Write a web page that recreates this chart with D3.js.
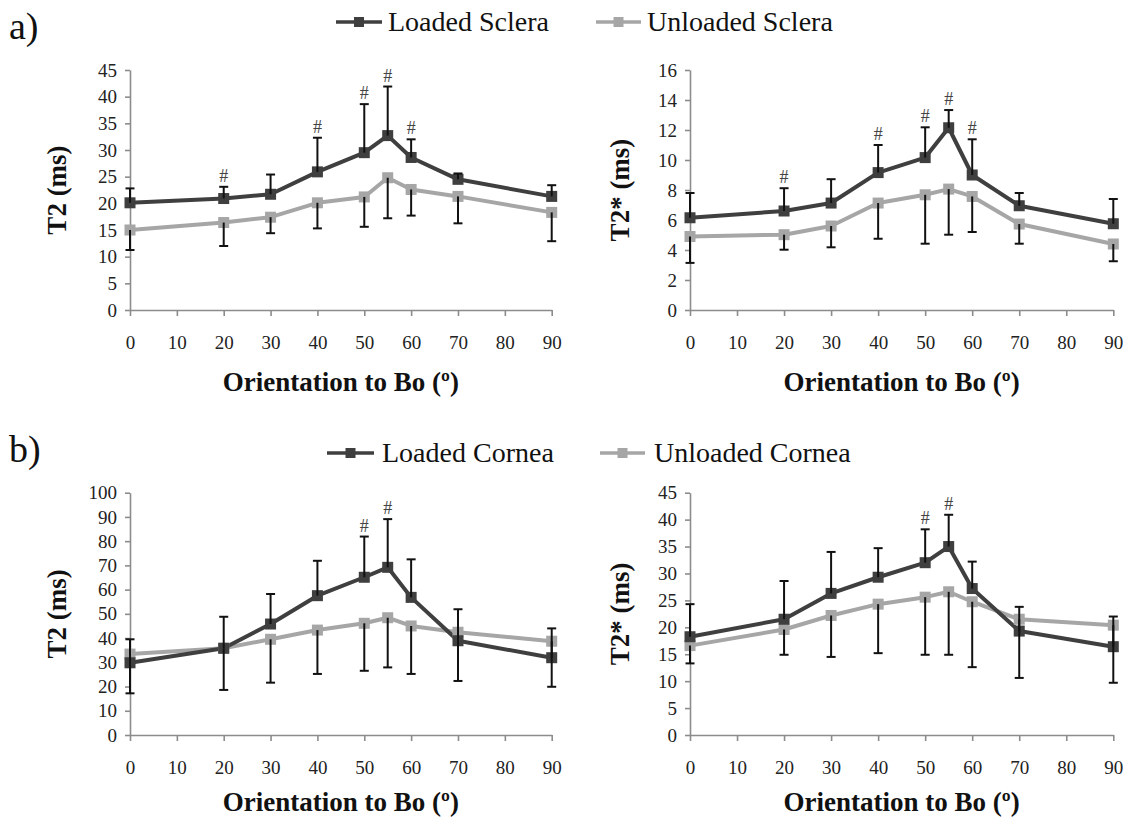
<!DOCTYPE html>
<html>
<head>
<meta charset="utf-8">
<script src="https://cdn.jsdelivr.net/npm/d3@7"></script>
<style>
  html, body { margin: 0; padding: 0; background: #fff; }
  svg { display: block; }
  svg text { font-family: "Liberation Serif", "DejaVu Serif", serif; }
</style>
</head>
<body>
<svg id="chart" width="1125" height="819"></svg>
<script>
// ---------------- DATA ----------------
const angles = [0, 20, 30, 40, 50, 55, 60, 70, 90];
const xTickValues = [0, 10, 20, 30, 40, 50, 60, 70, 80, 90];

// a) Sclera T2 (ms)
const scleraT2Loaded     = [20.1, 20.9, 21.7, 25.9, 29.5, 32.7, 28.6, 24.5, 21.3];
const scleraT2LoadedSD   = [2.7, 2.2, 3.7, 6.4, 9.1, 9.2, 3.4, 1.1, 2.1];
const scleraT2Unloaded   = [15.0, 16.4, 17.4, 20.1, 21.2, 24.8, 22.6, 21.3, 18.3];
const scleraT2UnloadedSD = [3.75, 4.4, 3.0, 4.8, 5.6, 7.6, 4.9, 5.05, 5.4];
const scleraT2Sig        = [20, 40, 50, 55, 60];

// a) Sclera T2* (ms)
const scleraT2sLoaded     = [6.15, 6.6, 7.13, 9.16, 10.16, 12.15, 9.0, 6.95, 5.75];
const scleraT2sLoadedSD   = [1.65, 1.52, 1.59, 1.84, 2.02, 1.18, 2.38, 0.85, 1.65];
const scleraT2sUnloaded   = [4.9, 5.02, 5.6, 7.13, 7.68, 8.06, 7.57, 5.73, 4.4];
const scleraT2sUnloadedSD = [1.76, 1.0, 1.42, 2.38, 3.26, 3.04, 2.37, 1.31, 1.15];
const scleraT2sSig        = [20, 40, 50, 55, 60];

// b) Cornea T2 (ms)
const corneaT2Loaded     = [29.8, 35.8, 45.8, 57.5, 65.1, 69.2, 56.8, 38.9, 31.9];
const corneaT2LoadedSD   = [9.7, 13.0, 12.4, 14.4, 16.8, 19.9, 15.7, 13.0, 12.1];
const corneaT2Unloaded   = [33.4, 35.8, 39.5, 43.3, 46.1, 48.4, 45.0, 42.4, 38.7];
const corneaT2UnloadedSD = [16.2, 17.2, 17.9, 18.1, 19.6, 20.5, 19.8, 20.1, 18.8];
const corneaT2Sig        = [50, 55];

// b) Cornea T2* (ms)
const corneaT2sLoaded     = [18.25, 21.5, 26.3, 29.3, 32.0, 35.0, 27.2, 19.3, 16.4];
const corneaT2sLoadedSD   = [6.05, 7.1, 7.7, 5.4, 6.2, 5.9, 5.0, 4.5, 5.6];
const corneaT2sUnloaded   = [16.6, 19.6, 22.2, 24.3, 25.6, 26.6, 24.75, 21.5, 20.4];
const corneaT2sUnloadedSD = [3.3, 4.7, 7.7, 9.1, 10.7, 11.7, 12.15, 10.9, 10.7];
const corneaT2sSig        = [50, 55];

const scleraLegend = ["Loaded Sclera", "Unloaded Sclera"];
const corneaLegend = ["Loaded Cornea", "Unloaded Cornea"];
const xTitle = "Orientation to Bo (º)";

// ---------------- STYLE / LAYOUT ----------------
const C_LOADED = "#3f3f3f";
const C_UNLOADED = "#a6a6a6";
const C_AXIS = "#8c8c8c";

const svg = d3.select("#chart");

const panels = [
  { left: 130, right: 551.7, top: 70, bottom: 310, ymax: 45, ystep: 5, ytitle: "T2 (ms)", ytx: 57, xtb: 391,
    loaded: scleraT2Loaded, loadedSD: scleraT2LoadedSD, unloaded: scleraT2Unloaded, unloadedSD: scleraT2UnloadedSD, sig: scleraT2Sig },
  { left: 690, right: 1113.3, top: 70, bottom: 310, ymax: 16, ystep: 2, ytitle: "T2* (ms)", ytx: 620, xtb: 391,
    loaded: scleraT2sLoaded, loadedSD: scleraT2sLoadedSD, unloaded: scleraT2sUnloaded, unloadedSD: scleraT2sUnloadedSD, sig: scleraT2sSig },
  { left: 130, right: 551.7, top: 492.7, bottom: 735, ymax: 100, ystep: 10, ytitle: "T2 (ms)", ytx: 57, xtb: 811,
    loaded: corneaT2Loaded, loadedSD: corneaT2LoadedSD, unloaded: corneaT2Unloaded, unloadedSD: corneaT2UnloadedSD, sig: corneaT2Sig },
  { left: 690, right: 1113.3, top: 492.7, bottom: 735, ymax: 45, ystep: 5, ytitle: "T2* (ms)", ytx: 620, xtb: 811,
    loaded: corneaT2sLoaded, loadedSD: corneaT2sLoadedSD, unloaded: corneaT2sUnloaded, unloadedSD: corneaT2sUnloadedSD, sig: corneaT2sSig }
];

function drawPanel(p) {
  const x = d3.scaleLinear().domain([0, 90]).range([p.left, p.right]);
  const y = d3.scaleLinear().domain([0, p.ymax]).range([p.bottom, p.top]);
  const g = svg.append("g");

  // Y axis
  const yAxis = d3.axisLeft(y)
    .tickValues(d3.range(0, p.ymax + p.ystep / 2, p.ystep))
    .tickSize(5).tickPadding(8).tickSizeOuter(0);
  const ya = g.append("g").attr("transform", `translate(${p.left},0)`).call(yAxis);
  ya.attr("font-family", null);
  ya.select(".domain").attr("stroke", C_AXIS).attr("stroke-width", 1.6);
  ya.selectAll(".tick line").attr("stroke", C_AXIS).attr("stroke-width", 1.6);
  ya.selectAll(".tick text").attr("font-size", 19).attr("fill", "#222");

  // X axis
  const xAxis = d3.axisBottom(x).tickValues(xTickValues)
    .tickSize(6).tickPadding(20).tickSizeOuter(0);
  const xa = g.append("g").attr("transform", `translate(0,${p.bottom})`).call(xAxis);
  xa.attr("font-family", null);
  xa.select(".domain").attr("stroke", C_AXIS).attr("stroke-width", 1.6);
  xa.selectAll(".tick line").attr("stroke", C_AXIS).attr("stroke-width", 1.6);
  xa.selectAll(".tick text").attr("font-size", 19).attr("fill", "#222");

  // Axis titles
  g.append("text")
    .attr("x", (p.left + p.right) / 2).attr("y", p.xtb)
    .attr("text-anchor", "middle")
    .attr("font-weight", "bold").attr("font-size", 27)
    .attr("fill", "#111").text(xTitle);
  g.append("text")
    .attr("transform", `translate(${p.ytx},${(p.top + p.bottom) / 2}) rotate(-90)`)
    .attr("text-anchor", "middle").attr("dominant-baseline", "central")
    .attr("font-weight", "bold").attr("font-size", 27)
    .attr("fill", "#111").text(p.ytitle);

  const loadedPts = angles.map((a, i) => ({ a, v: p.loaded[i], sd: p.loadedSD[i] }));
  const unloadedPts = angles.map((a, i) => ({ a, v: p.unloaded[i], sd: p.unloadedSD[i] }));

  const line = d3.line().x(d => x(d.a)).y(d => y(d.v));

  // Lines
  g.append("path").datum(unloadedPts).attr("d", line)
    .attr("fill", "none").attr("stroke", C_UNLOADED).attr("stroke-width", 4).attr("stroke-linejoin", "round");
  g.append("path").datum(loadedPts).attr("d", line)
    .attr("fill", "none").attr("stroke", C_LOADED).attr("stroke-width", 4).attr("stroke-linejoin", "round");

  // Markers
  const ms = 11;
  g.selectAll(".mu").data(unloadedPts).enter().append("rect")
    .attr("x", d => x(d.a) - ms / 2).attr("y", d => y(d.v) - ms / 2)
    .attr("width", ms).attr("height", ms).attr("fill", C_UNLOADED);
  g.selectAll(".ml").data(loadedPts).enter().append("rect")
    .attr("x", d => x(d.a) - ms / 2).attr("y", d => y(d.v) - ms / 2)
    .attr("width", ms).attr("height", ms).attr("fill", C_LOADED);

  // Error bars: loaded (+), unloaded (-)
  const cap = 4.5;
  const eb = g.append("g").attr("stroke", "#111").attr("stroke-width", 2);
  loadedPts.forEach(d => {
    const xx = x(d.a), y1 = y(d.v), y2 = y(d.v + d.sd);
    eb.append("line").attr("x1", xx).attr("x2", xx).attr("y1", y1).attr("y2", y2);
    eb.append("line").attr("x1", xx - cap).attr("x2", xx + cap).attr("y1", y2).attr("y2", y2);
  });
  unloadedPts.forEach(d => {
    const xx = x(d.a), y1 = y(d.v), y2 = y(d.v - d.sd);
    eb.append("line").attr("x1", xx).attr("x2", xx).attr("y1", y1).attr("y2", y2);
    eb.append("line").attr("x1", xx - cap).attr("x2", xx + cap).attr("y1", y2).attr("y2", y2);
  });

  // Significance markers
  p.sig.forEach(a => {
    const i = angles.indexOf(a);
    const top = y(p.loaded[i] + p.loadedSD[i]);
    g.append("text").attr("x", x(a)).attr("y", top - 5)
      .attr("text-anchor", "middle")
      .attr("font-size", 18).attr("fill", "#444").text("#");
  });
}

panels.forEach(drawPanel);

// Panel letters
svg.append("text").attr("x", 9).attr("y", 39)
  .attr("font-size", 38).attr("fill", "#111").text("a)");
svg.append("text").attr("x", 9).attr("y", 462)
  .attr("font-size", 38).attr("fill", "#111").text("b)");

// Legends
function legend(labels, lineY, textY, items) {
  items.forEach((it, i) => {
    const col = i === 0 ? C_LOADED : C_UNLOADED;
    svg.append("line").attr("x1", it.x1).attr("x2", it.x2).attr("y1", lineY).attr("y2", lineY)
      .attr("stroke", col).attr("stroke-width", 3.5);
    svg.append("rect").attr("x", (it.x1 + it.x2) / 2 - 5).attr("y", lineY - 5)
      .attr("width", 10).attr("height", 10).attr("fill", col);
    svg.append("text").attr("x", it.tx).attr("y", textY)
      .attr("font-size", 28).attr("fill", "#111").text(labels[i]);
  });
}
legend(scleraLegend, 22, 31, [{ x1: 336, x2: 382, tx: 388 }, { x1: 596, x2: 641, tx: 647 }]);
legend(corneaLegend, 453, 462, [{ x1: 327, x2: 374, tx: 382 }, { x1: 600, x2: 645, tx: 654 }]);
</script>
</body>
</html>
